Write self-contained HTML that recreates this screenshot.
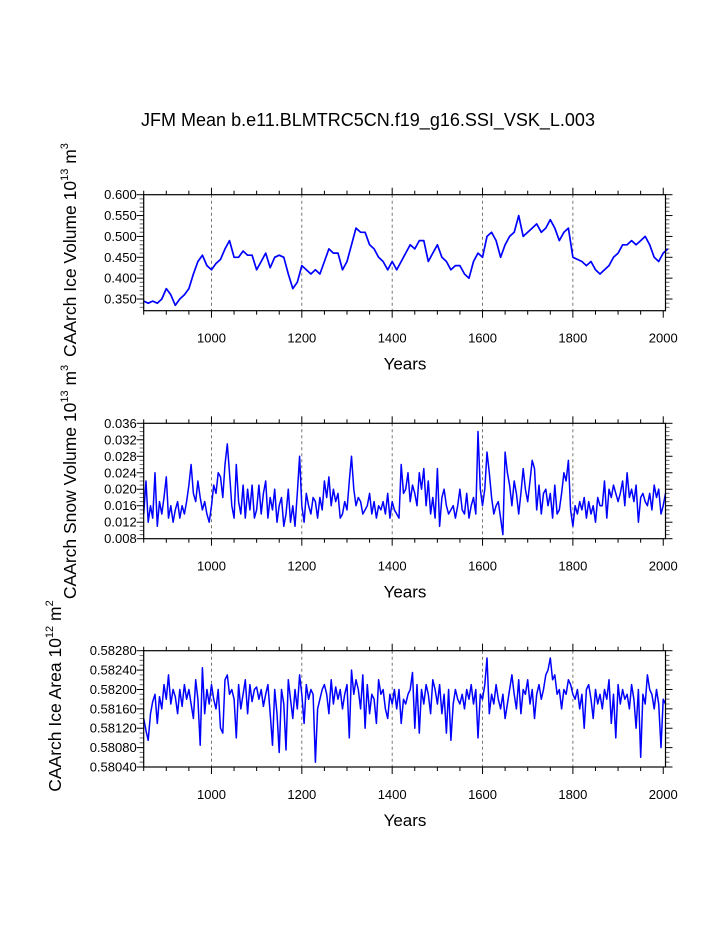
<!DOCTYPE html>
<html><head><meta charset="utf-8"><style>
body{margin:0;background:#fff;}
svg{display:block;font-family:"Liberation Sans",sans-serif;}
</style></head><body>
<svg id="c" width="723" height="935">
<text x="368" y="126" font-size="18" text-anchor="middle">JFM Mean b.e11.BLMTRC5CN.f19_g16.SSI_VSK_L.003</text>
</svg>
<script>
const iceVolYears0 = 850, iceVolStep = 10;
const iceVolume = [0.345,0.34,0.345,0.34,0.35,0.375,0.36,0.335,0.35,0.36,0.375,0.41,0.44,0.455,0.43,0.42,0.435,0.445,0.47,0.49,0.45,0.45,0.465,0.455,0.455,0.42,0.44,0.46,0.425,0.45,0.455,0.45,0.41,0.375,0.39,0.43,0.42,0.41,0.42,0.41,0.44,0.47,0.46,0.46,0.42,0.44,0.48,0.52,0.51,0.51,0.48,0.47,0.45,0.44,0.42,0.44,0.42,0.44,0.46,0.48,0.47,0.49,0.49,0.44,0.46,0.48,0.45,0.44,0.42,0.43,0.43,0.41,0.40,0.44,0.46,0.45,0.50,0.51,0.49,0.45,0.48,0.50,0.51,0.55,0.50,0.51,0.52,0.53,0.51,0.52,0.54,0.52,0.49,0.51,0.52,0.45,0.445,0.44,0.43,0.44,0.42,0.41,0.42,0.43,0.45,0.46,0.48,0.48,0.49,0.48,0.49,0.50,0.48,0.45,0.44,0.46,0.47];
const snowYears0 = 850, snowStep = 5;
const snowVolume = [.014,.022,.012,.016,.013,.024,.011,.017,.014,.018,
.023,.013,.016,.012,.015,.017,.013,.016,.014,.017,
.021,.026,.019,.017,.022,.018,.015,.017,.014,.012,
.016,.021,.019,.024,.023,.018,.026,.031,.024,.016,
.013,.026,.017,.014,.021,.013,.020,.015,.021,.013,
.015,.021,.014,.019,.022,.013,.018,.015,.020,.012,
.016,.018,.011,.014,.020,.012,.016,.011,.019,.028,
.016,.012,.019,.016,.014,.018,.017,.013,.018,.015,
.022,.018,.023,.016,.020,.017,.019,.013,.014,.017,
.015,.022,.028,.020,.016,.018,.017,.014,.015,.016,
.019,.014,.017,.013,.016,.015,.017,.014,.019,.013,
.017,.015,.014,.013,.026,.019,.020,.024,.017,.021,
.019,.016,.024,.020,.025,.016,.022,.014,.018,.013,
.025,.011,.018,.020,.016,.014,.015,.016,.013,.016,
.020,.015,.014,.019,.013,.016,.018,.014,.034,.020,
.016,.020,.029,.024,.018,.014,.016,.017,.013,.009,
.029,.024,.021,.016,.022,.019,.014,.019,.025,.020,
.017,.022,.027,.025,.015,.021,.014,.019,.020,.016,
.019,.013,.021,.014,.015,.019,.024,.022,.027,.015,
.011,.016,.014,.017,.015,.018,.013,.017,.014,.016,
.012,.018,.016,.016,.022,.013,.020,.018,.021,.019,
.017,.019,.022,.016,.024,.018,.020,.017,.021,.012,
.018,.019,.017,.016,.019,.015,.021,.018,.020,.014,
.016,.019];
const areaYears0 = 850, areaStep = 5;
const iceArea = [.58140,.58115,.58095,.58150,.58175,.58190,.58130,.58185,.58160,.58210,
.58180,.58230,.58170,.58200,.58185,.58150,.58200,.58165,.58210,.58180,
.58200,.58170,.58140,.58220,.58180,.58085,.58245,.58150,.58200,.58170,
.58210,.58180,.58160,.58200,.58120,.58110,.58220,.58230,.58190,.58200,
.58180,.58100,.58210,.58160,.58190,.58220,.58150,.58210,.58175,.58200,
.58205,.58180,.58200,.58165,.58190,.58210,.58150,.58085,.58200,.58150,
.58070,.58200,.58170,.58075,.58220,.58180,.58140,.58200,.58160,.58230,
.58190,.58130,.58210,.58180,.58200,.58190,.58050,.58160,.58180,.58200,
.58210,.58190,.58150,.58220,.58170,.58205,.58180,.58200,.58160,.58190,
.58210,.58100,.58240,.58190,.58220,.58200,.58160,.58230,.58120,.58210,
.58150,.58190,.58180,.58130,.58220,.58190,.58200,.58160,.58140,.58190,
.58170,.58200,.58160,.58200,.58130,.58180,.58170,.58190,.58200,.58235,
.58120,.58210,.58110,.58200,.58170,.58210,.58190,.58150,.58220,.58200,
.58170,.58210,.58150,.58190,.58110,.58200,.58095,.58170,.58200,.58180,
.58170,.58190,.58160,.58200,.58180,.58210,.58170,.58200,.58100,.58190,
.58180,.58210,.58265,.58150,.58190,.58170,.58210,.58180,.58160,.58190,
.58140,.58170,.58200,.58230,.58190,.58160,.58220,.58150,.58200,.58190,
.58220,.58170,.58200,.58140,.58190,.58210,.58180,.58200,.58230,.58240,
.58265,.58220,.58230,.58190,.58200,.58160,.58200,.58190,.58220,.58210,
.58190,.58180,.58200,.58160,.58190,.58120,.58200,.58210,.58180,.58140,
.58200,.58170,.58190,.58160,.58200,.58180,.58220,.58130,.58190,.58100,
.58210,.58170,.58200,.58180,.58190,.58160,.58210,.58180,.58120,.58200,
.58060,.58190,.58170,.58230,.58200,.58190,.58160,.58200,.58170,.58080,
.58180,.58170];
const xTickLabels = [1000,1200,1400,1600,1800,2000];
const volTicks = ["0.350","0.400","0.450","0.500","0.550","0.600"];
const snowTicks = ["0.008","0.012","0.016","0.020","0.024","0.028","0.032","0.036"];
const areaTicks = ["0.58040","0.58080","0.58120","0.58160","0.58200","0.58240","0.58280"];

const NS="http://www.w3.org/2000/svg";
const svg=document.getElementById('c');
const X0=143.7,X1=665.5,YR0=850,YR1=2005;
const xs=y=>X0+(y-YR0)*(X1-X0)/(YR1-YR0);
function mk(t,a,p){const e=document.createElementNS(NS,t);for(const k in a)e.setAttribute(k,a[k]);(p||svg).appendChild(e);return e;}

function panel(name,top,bot,ymin,ymax,ticks,minorPer,data,y0,step,titleParts,titleX,titleY,lw){
  const g=mk('g',{});
  
  
  const ys=v=>bot-(v-ymin)*(bot-top)/(ymax-ymin);
  xTickLabels.forEach(t=>{if(t<2000){const l=mk('line',{x1:xs(t),x2:xs(t),y1:top,y2:bot,stroke:'#555','stroke-width':0.8,'stroke-dasharray':'3,3'},g);
    
    }});
  for(let yr=850;yr<=2000;yr+=50){const maj=yr%200==0;const len=maj?7:4;
    mk('line',{x1:xs(yr),x2:xs(yr),y1:bot,y2:bot+len,stroke:'#000','stroke-width':1},g);
    mk('line',{x1:xs(yr),x2:xs(yr),y1:top,y2:top-len,stroke:'#000','stroke-width':1},g);}
  xTickLabels.forEach(t=>{const tx=mk('text',{x:xs(t),y:bot+32,'font-size':13,'text-anchor':'middle'},g);tx.textContent=t;
    
    });
  const xt=mk('text',{x:405,y:bot+59,'font-size':17,'text-anchor':'middle'},g);xt.textContent='Years';
  
  
  const n=ticks.length;const dv=(parseFloat(ticks[1])-parseFloat(ticks[0]));
  for(let i=0;i<n;i++){const v=parseFloat(ticks[i]);const y=ys(v);
    mk('line',{x1:X0-7,x2:X0,y1:y,y2:y,stroke:'#000'},g);mk('line',{x1:X1,x2:X1+7,y1:y,y2:y,stroke:'#000'},g);
    const tx=mk('text',{x:X0-7,y:y+4.5,'font-size':13,'text-anchor':'end'},g);tx.textContent=ticks[i];
    
    
    for(let m=-minorPer;m<minorPer;m++){const vv=v+dv*m/minorPer;if(m%minorPer==0)continue;const yy=ys(vv);if(yy<top-0.1||yy>bot+0.1)continue;
      mk('line',{x1:X0-4,x2:X0,y1:yy,y2:yy,stroke:'#777'},g);mk('line',{x1:X1,x2:X1+4,y1:yy,y2:yy,stroke:'#777'},g);}
  }
  let d='';data.forEach((v,i)=>{d+=(i?'L':'M')+xs(y0+i*step).toFixed(1)+','+ys(v).toFixed(1);});
  const p=mk('path',{d:d,fill:'none',stroke:'#0000ff','stroke-width':lw,'stroke-linejoin':'round'},g);
  
  
  mk('rect',{x:X0,y:top,width:X1-X0,height:bot-top,fill:'none',stroke:'#000','stroke-width':1.2},g);
  const yt=mk('text',{x:0,y:0,'font-size':17.5,'text-anchor':'middle',transform:`translate(${titleX},${titleY}) rotate(-90)`},g);
  
  
  yt.appendChild(document.createTextNode(titleParts[0]+' 10'));
  let s=mk('tspan',{dy:-8,'font-size':11},yt);s.textContent=titleParts[1];
  s=mk('tspan',{dy:8},yt);s.textContent=' m';
  s=mk('tspan',{dy:-8,'font-size':11},yt);s.textContent=titleParts[2];
}
panel('ice-volume',194.7,310.7,0.322,0.6,volTicks,5,iceVolume,iceVolYears0,iceVolStep,['CAArch Ice Volume','13','3'],76,250,1.7);
panel('snow-volume',423.3,538.7,0.008,0.036,snowTicks,4,snowVolume,snowYears0,snowStep,['CAArch Snow Volume','13','3'],76,482,1.5);
panel('ice-area',650.7,767,0.5804,0.5828,areaTicks,4,iceArea,areaYears0,areaStep,['CAArch Ice Area','12','2'],61,696,1.5);
</script>
</body></html>
